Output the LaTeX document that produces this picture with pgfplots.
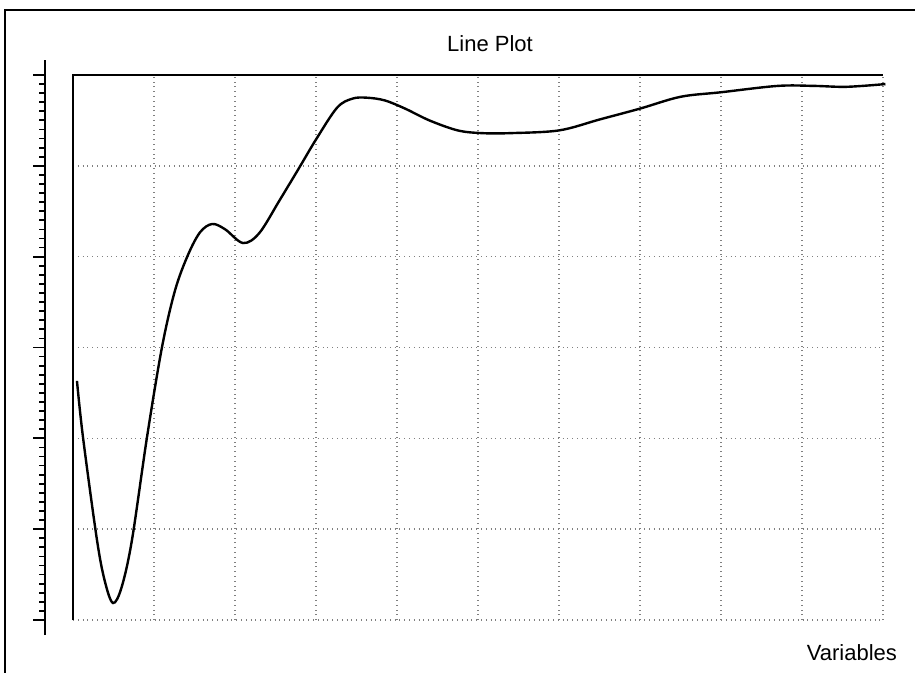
\documentclass[border=0pt]{standalone}
\usepackage{fontspec}
\setmainfont{Liberation Sans}
\usepackage{pgfplots}
\pgfplotsset{compat=1.18}

\begin{document}
\begin{tikzpicture}
% page = 915 x 673 px, 1 px = 0.5pt
\useasboundingbox (0,0) rectangle (457.5pt,-336.5pt);
\clip (0,0) rectangle (457.5pt,-336.5pt);

% outer frame (runs off the scan at right and bottom)
\draw[line width=1pt] (2.5pt,-345pt) -- (2.5pt,-5pt) -- (465pt,-5pt);

\node[font=\fontsize{11}{13}\selectfont] at (245pt,-22pt) {Line Plot};
\node[font=\fontsize{11}{13}\selectfont, anchor=east] at (452pt,-326.5pt) {Variables};

% ruler on the left
\begin{axis}[
  at={(22.5pt,-317.5pt)}, anchor=south west,
  scale only axis, width=1pt, height=287.5pt,
  xmin=0, xmax=1, ymin=-0.165, ymax=6.165,
  axis x line=none, axis y line=left,
  y axis line style={-, line width=1pt},
  ytick={0,...,6}, minor y tick num=9,
  yticklabels={},
  tick align=outside,
  major tick length=6pt, minor tick length=2.8pt,
  every tick/.style={black, line width=0.9pt},
]
\end{axis}

% main plot
\begin{axis}[
  at={(36.5pt,-310pt)}, anchor=south west,
  scale only axis, width=405pt, height=272.5pt,
  xmin=0, xmax=10, ymin=0, ymax=6,
  axis line style={draw=none},
  xtick={1,...,10}, ytick={0,...,5},
  xticklabels={}, yticklabels={},
  major tick length=0pt,
  grid=major,
  grid style={black!50, dotted, line width=0.7pt},
  clip=false,
]
\draw[line width=1pt] (axis cs:0,0) -- (axis cs:0,6) -- (axis cs:10,6);
\addplot[black, line width=1.2pt, smooth, tension=0.55] coordinates {
(0.049,2.632) (0.123,2.015) (0.296,0.881)
(0.395,0.42) (0.494,0.187) (0.60,0.36) (0.728,0.881)
(0.914,2.015) (1.10,3.01)
(1.26,3.63) (1.42,4.02) (1.57,4.27) (1.72,4.36) (1.88,4.30)
(2.10,4.15) (2.30,4.26) (2.55,4.62) (2.80,4.99) (3.00,5.29)
(3.26,5.64) (3.45,5.74) (3.63,5.75) (3.85,5.72) (4.10,5.63)
(4.40,5.50) (4.75,5.39) (5.05,5.36) (5.40,5.36) (6.00,5.39)
(6.50,5.51) (7.00,5.63) (7.50,5.76) (8.00,5.81) (8.70,5.88)
(9.15,5.88) (9.55,5.87) (10.03,5.90)
};
\end{axis}
\end{tikzpicture}
\end{document}
